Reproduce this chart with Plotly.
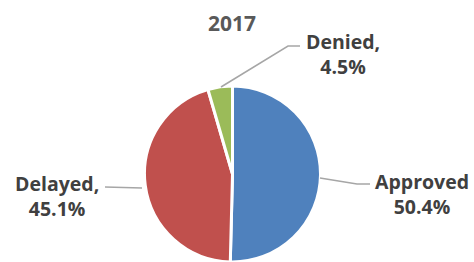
import plotly.graph_objects as go

title_text = "2017"
labels = ["Approved", "Delayed", "Denied"]
label_texts = ["Approved", "Delayed,", "Denied,"]
values = [50.4, 45.1, 4.5]
colors = ["#4F81BD", "#C0504D", "#9BBB59"]

W, H = 474, 262

fig = go.Figure(go.Pie(
    labels=labels, values=values, sort=False, direction="clockwise", rotation=0,
    marker=dict(colors=colors, line=dict(color="white", width=3)),
    textinfo="none", hoverinfo="label+percent",
    domain=dict(x=[144/W, 321/W], y=[0, 176/H]),
    showlegend=False,
))

def px(x, y):
    return x / W, 1 - y / H

font = dict(family="'Open Sans', sans-serif", size=19.5, color="#404040")
label_pos = [(422, 194), (57, 196), (343, 54)]
leaders = [
    [(320, 178), (357, 184), (370, 184)],
    [(142, 188), (105, 187)],
    [(221, 87), (288, 46), (300, 46)],
]
ann = []
for lab, v, (x, y) in zip(label_texts, values, label_pos):
    ax, ay = px(x, y)
    ann.append(dict(text=f"<b>{lab}<br>{v}%</b>", x=ax, y=ay, xref="paper", yref="paper",
                    showarrow=False, font=font, align="center", xanchor="center", yanchor="middle"))
shapes = []
for pts in leaders:
    path = "M " + " L ".join(f"{px(x,y)[0]},{px(x,y)[1]}" for x, y in pts)
    shapes.append(dict(type="path", path=path, xref="paper", yref="paper",
                       line=dict(color="#A6A6A6", width=1.5)))

fig.update_layout(
    width=W, height=H, margin=dict(l=0, r=0, t=0, b=0),
    paper_bgcolor="white", plot_bgcolor="white",
    title=dict(text=f"<b>{title_text}</b>", x=232/W, xanchor="center", y=1-23.5/H, yanchor="middle",
               font=dict(family="'Open Sans', sans-serif", size=21, color="#595959")),
    annotations=ann, shapes=shapes,
)
fig.write_html("out.html", config={"displayModeBar": False},
               post_script="document.body.style.margin='0';document.body.style.overflow='hidden';")
